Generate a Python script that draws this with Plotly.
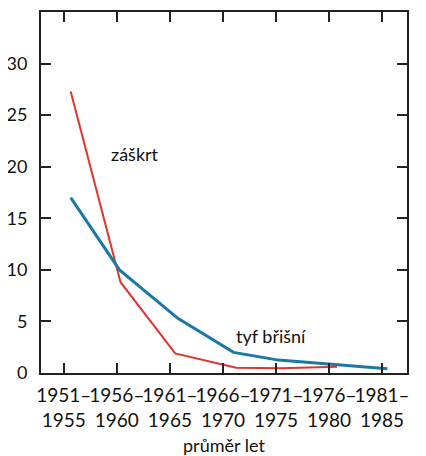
import plotly.graph_objects as go

# tick labels for the five-year periods
periods = ["1951–<br>1955", "1956–<br>1960", "1961–<br>1965", "1966–<br>1970",
           "1971–<br>1975", "1976–<br>1980", "1981–<br>1985"]

# záškrt (diphtheria)
zaskrt_x = [0.13, 1.07, 2.1, 3.25, 4.1, 5.15]
zaskrt_y = [27.3, 8.8, 1.9, 0.5, 0.45, 0.6]

# tyf břišní (typhoid)
tyf_x = [0.13, 1.05, 2.15, 3.2, 4.05, 5.0, 6.1]
tyf_y = [17.0, 10.0, 5.3, 2.0, 1.25, 0.85, 0.4]

fnt = "Lato, DejaVu Sans, sans-serif"

fig = go.Figure()
fig.add_trace(go.Scatter(x=zaskrt_x, y=zaskrt_y, mode="lines",
                         line=dict(color="#e0352b", width=2), name="záškrt"))
fig.add_trace(go.Scatter(x=tyf_x, y=tyf_y, mode="lines",
                         line=dict(color="#1a78a6", width=3), name="tyf břišní"))

fig.add_annotation(x=0.85, y=21.2, text="záškrt", showarrow=False,
                   xanchor="left", font=dict(family=fnt, size=18, color="#111"))
fig.add_annotation(x=3.2, y=3.6, text="tyf břišní", showarrow=False,
                   xanchor="left", font=dict(family=fnt, size=18, color="#111"))

# page body has an 8px margin, so the figure is a bit smaller than the window
fig.update_layout(
    width=418, height=448,
    margin=dict(l=33, r=19, t=4, b=83),
    paper_bgcolor="white", plot_bgcolor="white",
    showlegend=False,
    font=dict(family=fnt, size=18, color="#111"),
)
fig.update_xaxes(
    range=[-0.43, 6.47],
    tickvals=list(range(len(periods))), ticktext=periods,
    tickangle=0, automargin=False, tickfont=dict(size=19),
    ticks="inside", ticklen=10, tickwidth=2, tickcolor="#222",
    showline=True, linewidth=2, linecolor="#222", mirror="ticks",
    showgrid=False, zeroline=False,
    ticklabelstandoff=4,
    title=dict(text="průměr let", font=dict(size=18), standoff=14),
)
fig.update_yaxes(
    range=[0, 35], automargin=False,
    tickvals=[0, 5, 10, 15, 20, 25, 30],
    ticks="inside", ticklen=10, tickwidth=2, tickcolor="#222",
    showline=True, linewidth=2, linecolor="#222", mirror="ticks",
    showgrid=False, zeroline=False,
    ticklabelstandoff=8,
)

fig.write_html("out.html")
